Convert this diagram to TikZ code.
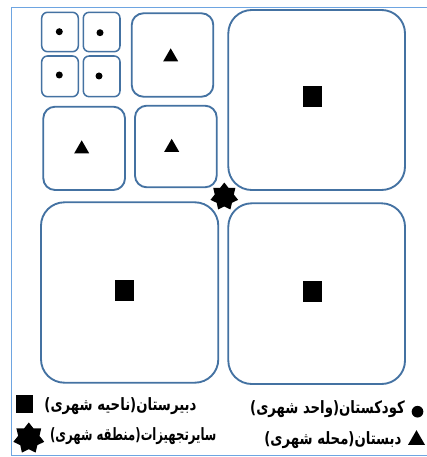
\documentclass[tikz,border=0pt]{standalone}
\usepackage{fontspec}
\usepackage{graphicx}
\newfontfamily\arabicfont[Script=Arabic, FakeStretch=0.78]{DejaVu Sans}
\TeXXeTstate=1
\usetikzlibrary{shapes.geometric}

\begin{document}
\begin{tikzpicture}[x=0.03cm, y=-0.03cm]

\definecolor{boxblue}{RGB}{68,114,162}
\definecolor{frameblue}{RGB}{110,165,225}
\tikzset{
  zone/.style={draw=boxblue, line width=1.6pt},
  dot/.style={circle, fill=black, inner sep=0pt, minimum size=0.21cm},
  tri/.style={regular polygon, regular polygon sides=3, fill=black, inner sep=0pt, minimum size=0.52cm},
  sq/.style={rectangle, fill=black, inner sep=0pt, minimum width=0.56cm, minimum height=0.63cm},
  hub/.style={star, star points=7, star point ratio=1.45, fill=black, inner sep=0pt, minimum size=0.85cm},
  legendtext/.style={font=\arabicfont\bfseries\fontsize{14.5}{16}\selectfont, inner sep=0pt, anchor=east}
}

\useasboundingbox (0,0) rectangle (426,457);

% frame
\draw[frameblue, line width=0.8pt] (430,7.3) -- (11.5,7.3) -- (11.5,455) -- (430,455);

% small cells
\draw[zone, line width=1.3pt, rounded corners=5] (41.7,12.3) rectangle (78.3,51.7);
\draw[zone, line width=1.3pt, rounded corners=5] (83.3,12.3) rectangle (120,51.7);
\draw[zone, line width=1.3pt, rounded corners=5] (41.7,56) rectangle (78.3,96.7);
\draw[zone, line width=1.3pt, rounded corners=5] (83.3,56) rectangle (120,96.7);
\node[dot] (dot_a) at (59.3,31.7) {};
\node[dot] (dot_b) at (100,32.7) {};
\node[dot] (dot_c) at (59.3,75) {};
\node[dot] (dot_d) at (99,76) {};

% medium cells
\draw[zone, rounded corners=10] (131.7,13.3) rectangle (213.3,96.7);
\draw[zone, rounded corners=10] (43.3,106.7) rectangle (125,190);
\draw[zone, rounded corners=10] (135,105.7) rectangle (216.7,187.3);
\node[tri] (tri_a) at (170.7,57) {};
\node[tri] (tri_b) at (81.7,149) {};
\node[tri] (tri_c) at (171.7,147.5) {};

% large cells
\draw[zone, rounded corners=20] (228.3,10) rectangle (405,190);
\draw[zone, rounded corners=20] (41,202.3) rectangle (218.3,382.7);
\draw[zone, rounded corners=20] (228.3,203.3) rectangle (405,384);
\node[sq] (sq_a) at (312.3,96.7) {};
\node[sq] (sq_b) at (124.3,290) {};
\node[sq] (sq_c) at (312.3,291) {};

% centre
\node[hub] (hub_c) at (224.3,196.7) {};

% legend
\node[sq, minimum width=0.51cm, minimum height=0.55cm] (key_sq) at (24.2,404.2) {};
\node[hub, minimum size=0.95cm] (key_hub) at (28.8,438.3) {};
\node[dot, minimum size=0.35cm] (key_dot) at (417.5,411.7) {};
\node[tri, minimum size=0.59cm] (key_tri) at (416.5,440) {};

\node[legendtext] (txt_sq) at (196.7,406) {\beginR دبیرستان(ناحیه شهری)\endR};
\node[legendtext] (txt_dot) at (405,409) {\beginR کودکستان(واحد شهری)\endR};
\node[legendtext] (txt_hub) at (216.7,436) {\scalebox{0.88}[1]{\beginR سایرتجهیزات(منطقه شهری)\endR}};
\node[legendtext] (txt_tri) at (401.7,440) {\beginR دبستان(محله شهری)\endR};

\end{tikzpicture}
\end{document}
